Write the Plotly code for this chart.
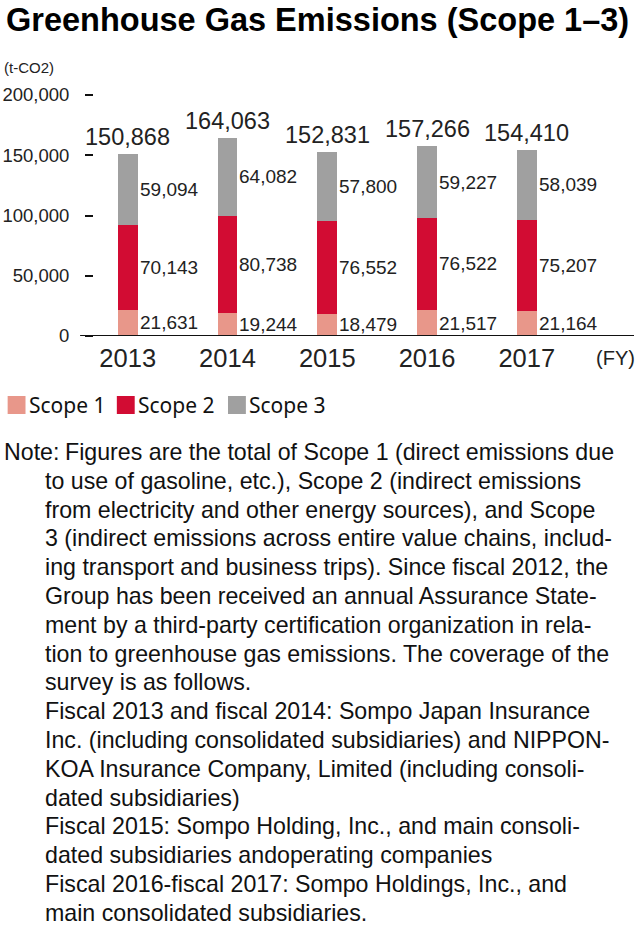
import plotly.graph_objects as go

years = ["2013", "2014", "2015", "2016", "2017"]
scope1 = [21631, 19244, 18479, 21517, 21164]
scope2 = [70143, 80738, 76552, 76522, 75207]
scope3 = [59094, 64082, 57800, 59227, 58039]
totals = [150868, 164063, 152831, 157266, 154410]
series_names = ["Scope 1", "Scope 2", "Scope 3"]
series_colors = ["#E8978A", "#D20C33", "#A0A0A0"]
y_ticks = [0, 50000, 100000, 150000, 200000]

note_first = "Figures are the total of Scope 1 (direct emissions due"
note_lines = [
    "to use of gasoline, etc.), Scope 2 (indirect emissions",
    "from electricity and other energy sources), and Scope",
    "3 (indirect emissions across entire value chains, includ-",
    "ing transport and business trips). Since fiscal 2012, the",
    "Group has been received an annual Assurance State-",
    "ment by a third-party certification organization in rela-",
    "tion to greenhouse gas emissions. The coverage of the",
    "survey is as follows.",
    "Fiscal 2013 and fiscal 2014: Sompo Japan Insurance",
    "Inc. (including consolidated subsidiaries) and NIPPON-",
    "KOA Insurance Company, Limited (including consoli-",
    "dated subsidiaries)",
    "Fiscal 2015: Sompo Holding, Inc., and main consoli-",
    "dated subsidiaries andoperating companies",
    "Fiscal 2016-fiscal 2017: Sompo Holdings, Inc., and",
    "main consolidated subsidiaries.",
]

W, H = 636, 928
L, R, T, B = 90, 634, 95, 336
FONT = "Liberation Sans"
PAD = 3  # annotation inner padding compensation


def px(x):
    return (x - L) / (R - L)


def py(y):
    return (B - y) / (B - T)


xs = list(range(len(years)))
fig = go.Figure()
for name, vals, col in zip(series_names, [scope1, scope2, scope3], series_colors):
    fig.add_trace(go.Bar(x=xs, y=vals, name=name, width=0.2,
                         marker=dict(color=col, line=dict(width=0)),
                         showlegend=False, hoverinfo="skip"))

ann = []
for i in xs:
    base = 0
    for vals in [scope1, scope2, scope3]:
        v = vals[i]
        ann.append(dict(x=i + 0.1, y=base + v / 2, xref="x", yref="y",
                        text=f"{v:,}", showarrow=False, xanchor="left",
                        yanchor="middle", xshift=0,
                        font=dict(size=19, color="#222", family=FONT)))
        base += v
    ann.append(dict(x=i, y=totals[i], xref="x", yref="y", text=f"{totals[i]:,}",
                    showarrow=False, xanchor="center", yanchor="bottom", yshift=2,
                    font=dict(size=23.5, color="#222", family=FONT)))

ann.append(dict(x=px(2 - PAD), y=py(20), xref="paper", yref="paper",
                text="<b>Greenhouse Gas Emissions (Scope 1–3)</b>", showarrow=False,
                xanchor="left", yanchor="middle",
                font=dict(size=32.5, color="#000", family=FONT)))
ann.append(dict(x=px(0 - PAD), y=py(68), xref="paper", yref="paper", text="(t-CO2)",
                showarrow=False, xanchor="left", yanchor="middle",
                font=dict(size=15, color="#222", family=FONT)))
ann.append(dict(x=px(637), y=py(358), xref="paper", yref="paper", text="(FY)",
                showarrow=False, xanchor="right", yanchor="middle",
                font=dict(size=20, color="#222", family=FONT)))

shapes = [dict(type="line", xref="paper", yref="y", x0=px(76), x1=px(634),
               y0=0, y1=0, line=dict(color="#111", width=2))]

leg_x = [3, 113, 225]
for lx, name, col in zip(leg_x, series_names, series_colors):
    shapes.append(dict(type="rect", xref="paper", yref="paper",
                       x0=px(lx), x1=px(lx + 18), y0=py(396), y1=py(414),
                       fillcolor=col, line=dict(width=0)))
    ann.append(dict(x=px(lx + 19), y=py(405), xref="paper", yref="paper",
                    text=name, showarrow=False, xanchor="left", yanchor="middle",
                    font=dict(size=21, color="#111", family="Noto Sans")))

NOTE_SIZE = 23.2
LINE_H = 28.8
ann.append(dict(x=px(0 - PAD), y=py(452), xref="paper", yref="paper", text="Note:",
                showarrow=False, xanchor="left", yanchor="middle",
                font=dict(size=NOTE_SIZE, color="#111", family=FONT)))
ann.append(dict(x=px(62 - PAD), y=py(452), xref="paper", yref="paper", text=note_first,
                showarrow=False, xanchor="left", yanchor="middle",
                font=dict(size=NOTE_SIZE, color="#111", family=FONT)))
for k, line in enumerate(note_lines, start=1):
    ann.append(dict(x=px(42 - PAD), y=py(452 + k * LINE_H), xref="paper", yref="paper",
                    text=line, showarrow=False, xanchor="left", yanchor="middle",
                    font=dict(size=NOTE_SIZE, color="#111", family=FONT)))

fig.update_layout(
    width=W, height=H, autosize=False,
    margin=dict(l=L, r=W - R, t=T, b=H - B, pad=0),
    paper_bgcolor="white", plot_bgcolor="white",
    barmode="stack", bargap=0,
    showlegend=False,
    xaxis=dict(range=[-0.338, 5.075], tickvals=xs, ticktext=years,
               showgrid=False, zeroline=False, showline=False, ticks="",
               ticklabelstandoff=4,
               tickfont=dict(size=25.5, color="#222", family=FONT),
               fixedrange=True),
    yaxis=dict(range=[0, 200000], tickvals=y_ticks,
               ticktext=[f"{v:,}" for v in y_ticks],
               showgrid=False, zeroline=False, showline=False,
               ticks="outside", ticklen=8, tickwidth=2, tickcolor="#111",
               ticklabelstandoff=12,
               tickfont=dict(size=18.5, color="#222", family=FONT),
               fixedrange=True),
    annotations=ann, shapes=shapes,
)

fig.write_html("out.html", config={"displayModeBar": False},
               post_script="document.body.style.margin='0';document.body.style.padding='0';")
